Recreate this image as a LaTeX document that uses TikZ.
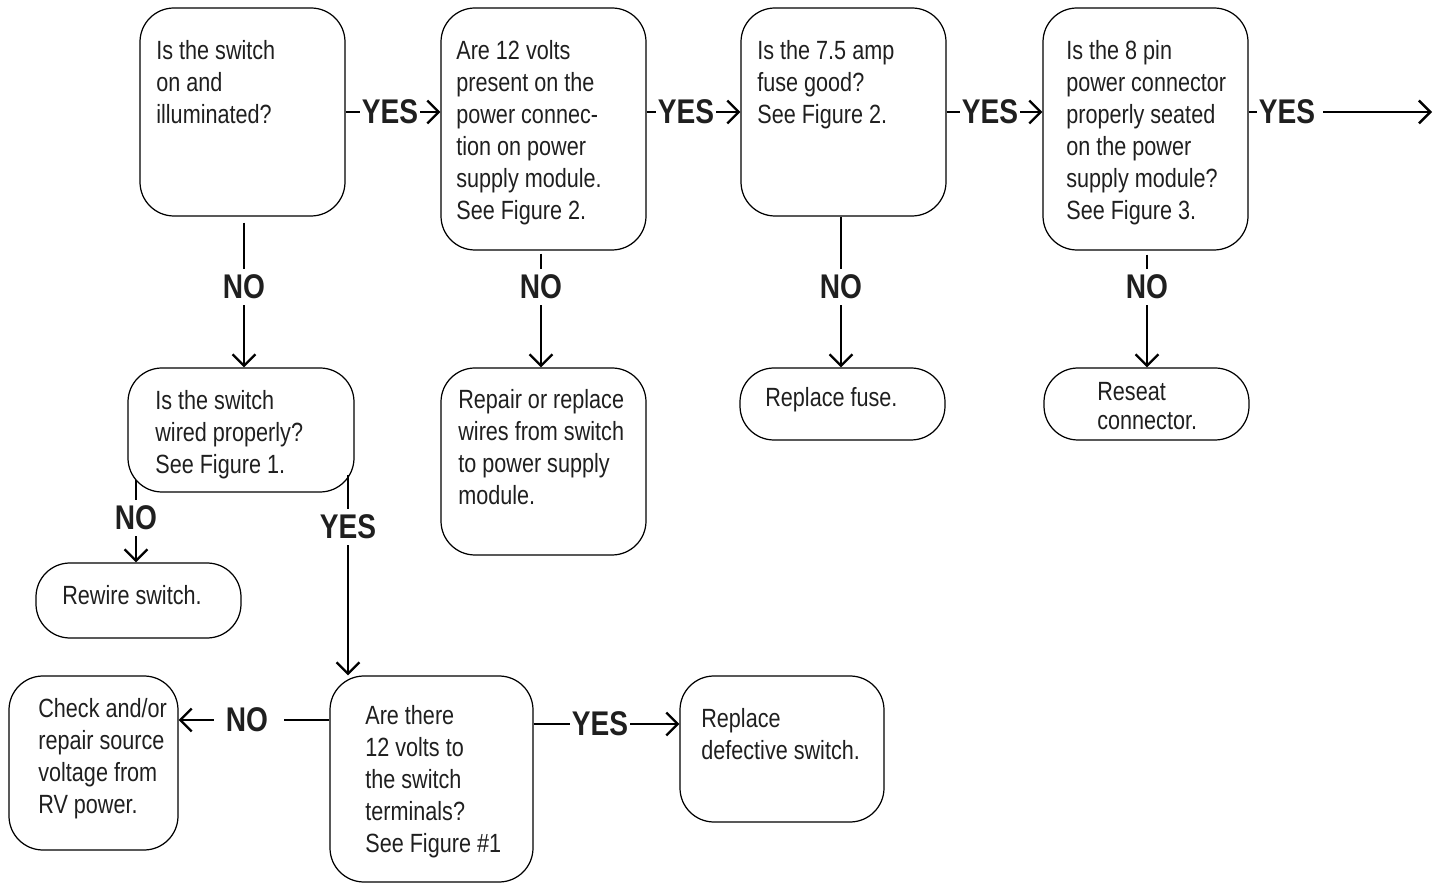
\documentclass[tikz,border=0pt]{standalone}
\usepackage{fontspec}
\setmainfont{Liberation Sans}[FakeStretch=0.82]
\usetikzlibrary{arrows.meta}
\newlength\pxu
\setlength\pxu{0.02cm}
\newcommand\rbox[5]{\node[box, minimum width=#4\pxu, minimum height=#5\pxu] (#1) at (#2,#3) {};}
\begin{document}
\begin{tikzpicture}[x=0.02cm,y=-0.02cm,
  box/.style={draw, line width=0.7pt, rounded corners=34\pxu, inner sep=0pt},
  txt/.style={anchor=north west, inner sep=0pt, align=left, text=black!88,
              font=\fontsize{15}{18.2}\selectfont},
  lab/.style={font=\fontsize{19.5}{22}\selectfont\bfseries, text=black!88,
              inner xsep=2\pxu, inner ysep=6\pxu},
  conn/.style={line width=1.35pt},
  arr/.style={conn, -{Straight Barb[length=6.5pt,width=13pt]}}]
\useasboundingbox (0,0) rectangle (1444,884);

% boxes
\rbox{b1}{242.5}{112}{205}{208}
\rbox{b2}{543.5}{129}{205}{242}
\rbox{b3}{843.5}{112}{205}{208}
\rbox{b4}{1145.5}{129}{205}{242}
\rbox{b5}{241}{430}{226}{124}
\rbox{b6}{543.5}{461.5}{205}{187}
\rbox{b7}{842.5}{404}{205}{72}
\rbox{b8}{1146.5}{404}{205}{72}
\rbox{b9}{138.5}{600.5}{205}{75}
\rbox{b10}{431.5}{779}{203}{206}
\rbox{b11}{93.5}{763}{169}{174}
\rbox{b12}{782}{749}{204}{146}

% texts
\node[txt] (t1) at (156,40) {Is the switch\\on and\\illuminated?};
\node[txt] (t2) at (456,40) {Are 12 volts\\present on the\\power connec-\\tion on power\\supply module.\\See Figure 2.};
\node[txt] (t3) at (757,40) {Is the 7.5 amp\\fuse good?\\See Figure 2.};
\node[txt] (t4) at (1066,40) {Is the 8 pin\\power connector\\properly seated\\on the power\\supply module?\\See Figure 3.};
\node[txt] (t5) at (155,390) {Is the switch\\wired properly?\\See Figure 1.};
\node[txt] (t6) at (458,389) {Repair or replace\\wires from switch\\to power supply\\module.};
\node[txt] (t7) at (765,387) {Replace fuse.};
\node[txt] (t8) at (1097,382) {Reseat\\[-1.7pt]connector.};
\node[txt] (t9) at (62,585) {Rewire switch.};
\node[txt] (t10) at (365,705) {Are there\\12 volts to\\the switch\\terminals?\\See Figure \#1};
\node[txt] (t11) at (38,698) {Check and/or\\repair source\\voltage from\\RV power.};
\node[txt] (t12) at (701,708) {Replace\\defective switch.};

% top row YES connectors
\node[lab] (y1) at (390,112) {YES};
\draw[conn] (b1.east) -- (y1.west);
\draw[arr] (y1.east) -- (y1 -| b2.west);
\node[lab] (y2) at (686,112) {YES};
\draw[conn] (y2 -| b2.east) -- (y2.west);
\draw[arr] (y2.east) -- (b3.west);
\node[lab] (y3) at (990,112) {YES};
\draw[conn] (b3.east) -- (y3.west);
\draw[arr] (y3.east) -- (y3 -| b4.west);
\node[lab] (y4) at (1287,112) {YES};
\coordinate (out) at (1432,112);
\draw[conn] (y4 -| b4.east) -- (y4.west);
\draw[arr, shorten <=6\pxu] (y4.east) -- (out);

% vertical NO connectors
\node[lab] (n1) at (244,287) {NO};
\draw[conn, shorten <=6\pxu] (n1 |- b1.south) -- (n1.north);
\draw[arr] (n1.south) -- (n1 |- b5.north);
\node[lab] (n2) at (541,287) {NO};
\draw[conn, shorten <=3\pxu] (n2 |- b2.south) -- (n2.north);
\draw[arr] (n2.south) -- (n2 |- b6.north);
\node[lab] (n3) at (841,287) {NO};
\draw[conn] (n3 |- b3.south) -- (n3.north);
\draw[arr] (n3.south) -- (n3 |- b7.north);
\node[lab] (n4) at (1147,287) {NO};
\draw[conn, shorten <=4\pxu] (n4 |- b4.south) -- (n4.north);
\draw[arr] (n4.south) -- (n4 |- b8.north);

% branches from b5
\coordinate (c5l) at (136,480);
\node[lab] (n5) at (136,518) {NO};
\draw[conn] (c5l) -- (n5.north);
\draw[arr] (n5.south) -- (n5 |- b9.north);
\coordinate (c5r) at (348,475);
\node[lab] (y5) at (348,527) {YES};
\draw[conn] (c5r) -- (y5.north);
\draw[arr] (y5.south) -- (y5 |- b10.north);

% bottom row
\node[lab] (nb) at (247,720) {NO};
\draw[conn, shorten >=14\pxu] (nb -| b10.west) -- (nb.east);
\draw[arr, shorten <=10\pxu] (nb.west) -- (nb -| b11.east);
\node[lab] (yb) at (600,724) {YES};
\draw[conn] (yb -| b10.east) -- (yb.west);
\draw[arr] (yb.east) -- (yb -| b12.west);
\end{tikzpicture}
\end{document}
